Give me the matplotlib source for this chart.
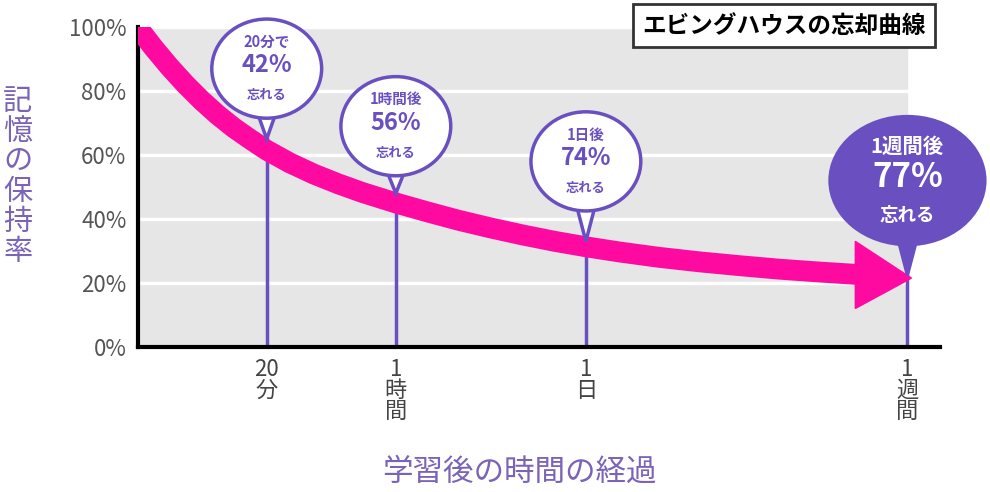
import matplotlib.pyplot as plt
from matplotlib.patches import Ellipse, Polygon

plt.rcParams['font.family'] = 'Noto Sans CJK JP'

# curve (x as fraction of axis width, y in %)
curve_x = [0.0, 0.02, 0.04, 0.06, 0.08, 0.10, 0.12, 0.14, 0.161, 0.19, 0.22, 0.25, 0.28, 0.322,
           0.36, 0.40, 0.44, 0.48, 0.52, 0.559, 0.60, 0.65, 0.70, 0.75, 0.80, 0.85, 0.90]
curve_y = [100, 93.5, 87.5, 82, 77, 72.5, 68.5, 65, 61.5, 57.5, 54, 51, 48.3, 45,
           42.3, 39.6, 37.2, 35, 33, 31.3, 29.7, 28, 26.6, 25.4, 24.3, 23.4, 22.6]

mark_x = [0.161, 0.322, 0.559, 0.96]
mark_top = [65, 48, 33, 22.5]
tick_labels = ['20\n分', '1\n時\n間', '1\n日', '1\n週\n間']
bubble_top = ['20分で', '1時間後', '1日後', '1週間後']
bubble_pct = ['42%', '56%', '74%', '77%']
bubble_cy = [87, 69, 58, 52]

purple = '#6a4fc0'
label_col = '#7b63b8'

fig = plt.figure(figsize=(9.9, 4.92), dpi=100)
ax = fig.add_axes([0.139, 0.295, 0.810, 0.650])
ax.set_xlim(0, 1)
ax.set_ylim(0, 100)
ax.axvspan(0, 0.96, color='#e6e6e6', zorder=0)
for g in [20, 40, 60, 80, 100]:
    ax.plot([0, 0.96], [g, g], color='white', lw=2.5, zorder=1)

for x, t in zip(mark_x, mark_top):
    ax.plot([x, x], [0, t], color=purple, lw=2.5, zorder=2)

ax.plot(curve_x, curve_y, color='#ff0aa0', lw=15, solid_capstyle='butt',
        solid_joinstyle='round', zorder=3)
ax.add_patch(Polygon([[0.895, 33], [0.965, 21.5], [0.895, 12]], closed=True,
                     color='#ff0aa0', zorder=3))

for i, (x, cy) in enumerate(zip(mark_x, bubble_cy)):
    big = i == 3
    w, h = (0.193, 40) if big else (0.137, 31)
    fc = purple if big else 'white'
    tc = 'white' if big else purple
    ax.add_patch(Polygon([[x - 0.012, cy - h / 2 + 2], [x + 0.012, cy - h / 2 + 2],
                          [x, mark_top[i]]], closed=True, fc=fc, ec=purple,
                         lw=2.5, zorder=4, clip_on=False))
    ax.add_patch(Ellipse((x, cy), w, h, fc=fc, ec=purple, lw=2.5, zorder=5, clip_on=False))
    s = 1.4 if big else 1.0
    ax.text(x, cy + h * 0.27, bubble_top[i], ha='center', va='center', color=tc,
            fontsize=10.5 * s, fontweight='bold', zorder=6)
    ax.text(x, cy + 1, bubble_pct[i], ha='center', va='center', color=tc,
            fontsize=17 * s, fontweight='bold', zorder=6)
    ax.text(x, cy - h * 0.27, '忘れる', ha='center', va='center', color=tc,
            fontsize=9.5 * s, fontweight='bold', zorder=6)

ax.set_xticks(mark_x)
ax.set_xticklabels(tick_labels, fontsize=16, color='#444444', linespacing=0.9, va='top')
ax.set_yticks([0, 20, 40, 60, 80, 100])
ax.set_yticklabels(['0%', '20%', '40%', '60%', '80%', '100%'], fontsize=16, color='#555555')
ax.tick_params(length=0, pad=8)
for s in ['top', 'right']:
    ax.spines[s].set_visible(False)
for s in ['left', 'bottom']:
    ax.spines[s].set_linewidth(3)

fig.text(0.018, 0.64, '記\n憶\nの\n保\n持\n率', fontsize=21, color=label_col,
         ha='center', va='center', linespacing=1.0)
fig.text(0.525, 0.04, '学習後の時間の経過', fontsize=22, color=label_col, ha='center', va='center')
fig.text(0.792, 0.948, 'エビングハウスの忘却曲線', fontsize=17, fontweight='bold', ha='center',
         va='center', bbox=dict(boxstyle='square,pad=0.4', fc='white', ec='#333333', lw=2))

fig.savefig('out.png', dpi=100)
